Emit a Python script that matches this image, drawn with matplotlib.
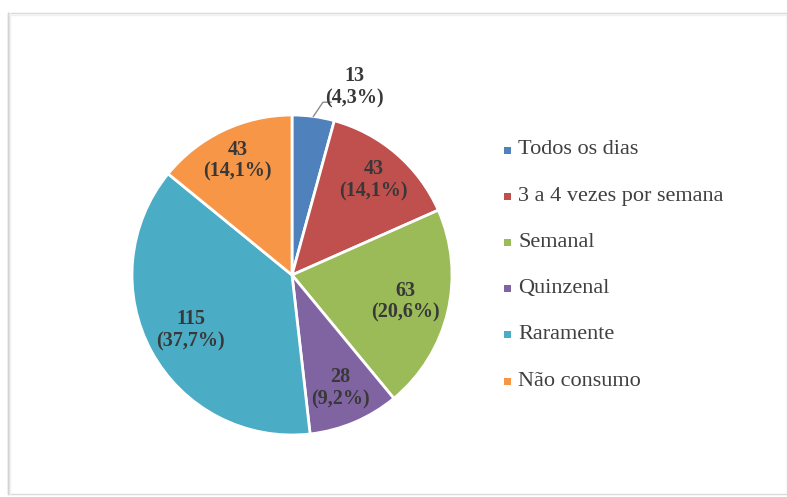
import numpy as np
import matplotlib.pyplot as plt
from matplotlib.patches import Rectangle
from matplotlib.lines import Line2D

categories = ['Todos os dias', '3 a 4 vezes por semana', 'Semanal',
              'Quinzenal', 'Raramente', 'Não consumo']
counts = [13, 43, 63, 28, 115, 43]
pct_labels = ['4,3%', '14,1%', '20,6%', '9,2%', '37,7%', '14,1%']
colors = ['#4F81BD', '#C0504D', '#9BBB59', '#8064A2', '#4BACC6', '#F79646']

W, H = 787, 497
fig = plt.figure(figsize=(W / 100, H / 100), dpi=100)
fig.patch.set_facecolor('white')

# frame with a soft shadow on the left
fig.patches.append(Rectangle((8 / W, 3 / H), (W - 8) / W, 481 / H,
                             transform=fig.transFigure, fill=False,
                             edgecolor='#dadada', lw=1.0))
for i, c in enumerate(['#cfcfcf', '#e2e2e2', '#f0f0f0']):
    fig.lines.append(Line2D([(8 + i) / W] * 2, [3 / H, 484 / H],
                            transform=fig.transFigure, color=c, lw=1))
fig.lines.append(Line2D([9 / W, 1], [482 / H] * 2, transform=fig.transFigure,
                        color='#f0f0f0', lw=1))

# pie axes, centre ~ (292, 275) px, radius 160 px
cx, cy, r = 292, H - 275, 160
ax = fig.add_axes([(cx - r) / W, (cy - r) / H, 2 * r / W, 2 * r / H])
wedges, _ = ax.pie(counts, colors=colors, startangle=90, counterclock=False,
                   radius=1.0, wedgeprops=dict(edgecolor='white', linewidth=2))
ax.set_xlim(-1, 1)
ax.set_ylim(-1, 1)
ax.set_aspect('equal')
ax.axis('off')

lab_font = dict(family='Liberation Serif', fontsize=14.5, fontweight='bold',
                color='#383838', ha='center', va='center', linespacing=1.15)
label_r = [None, 0.78, 0.73, 0.77, 0.72, 0.79]
for w, n, p, lr in zip(wedges, counts, pct_labels, label_r):
    mid = np.deg2rad((w.theta1 + w.theta2) / 2)
    txt = f'{n}\n({p})'
    if lr is None:
        ex, ey = np.cos(mid), np.sin(mid)
        kx, ky = ex + 0.06, 1.08
        ax.plot([ex, kx, kx + 0.05], [ey, ky, ky], color='#8c8c8c', lw=1,
                clip_on=False)
        ax.text(0.39, 1.175, txt, clip_on=False, **lab_font)
    else:
        ax.text(lr * np.cos(mid), lr * np.sin(mid), txt, **lab_font)

# legend
leg_y0, leg_dy = 150, 46.2
for i, (cat, col) in enumerate(zip(categories, colors)):
    y = H - (leg_y0 + i * leg_dy)
    fig.patches.append(Rectangle((504 / W, (y - 3.5) / H), 7 / W, 7 / H,
                                 transform=fig.transFigure, facecolor=col,
                                 edgecolor='none'))
    fig.text(518 / W, y / H, cat, family='Liberation Serif', fontsize=16,
             color='#404040', ha='left', va='center')

fig.savefig('out.png', dpi=100)
